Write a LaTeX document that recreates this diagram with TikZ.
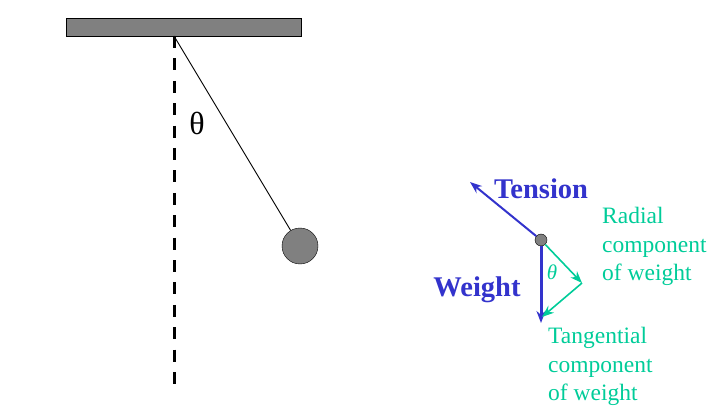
\documentclass[tikz,border=0pt]{standalone}
\usepackage{fontspec}
\setmainfont{Liberation Serif}
\usetikzlibrary{arrows,arrows.meta,positioning}
\definecolor{forceblue}{RGB}{51,51,204}
\definecolor{compgreen}{RGB}{0,204,153}
\definecolor{bobgray}{RGB}{128,128,128}

\begin{document}
\begin{tikzpicture}[
x=1pt,y=-1pt,
>={Stealth[length=12pt,width=9pt]},
mass/.style={
	circle,
	draw=black,
	fill=bobgray,
	inner sep=0pt
},
force/.style={
	->,
	forceblue,
	line width=2pt
},
component/.style={
	->,
	compgreen,
	line width=1.6pt
},
bigword/.style={
	forceblue,
	font=\fontsize{28.5}{30}\selectfont\bfseries
},
note/.style={
	compgreen,
	align=left,
	inner sep=0pt,
	anchor=north west,
	font=\fontsize{23.5}{28.5}\selectfont
}
]
\useasboundingbox (0,0) rectangle (720,414);

% pendulum
\node[draw=black,fill=bobgray,minimum width=235pt,minimum height=18pt,inner sep=0pt] (ceiling) at (183.5,27) {};
\coordinate (pivot) at (174,36);
\coordinate (plumb) at (174,384);
\node[mass,minimum size=36pt] (bob) at (300,246) {};
\draw[line width=3pt,dash pattern=on 12pt off 10.4pt] (pivot) -- (plumb);
\draw[line width=0.9pt] (pivot) -- (bob);
\node[font=\fontsize{32}{34}\selectfont] (angle) at (197,123) {θ};

% forces on the bob
\node[mass,minimum size=12pt] (dot) at (541,240) {};
\coordinate (tensionend) at (470,182);
\coordinate (weightend) at (541,323);
\coordinate (radialend) at (582,283);
\coordinate (tangentend) at (542,317);

\draw[force] (dot) -- (tensionend);
\draw[force,line width=3pt] (dot) -- (weightend);
\draw[component] (dot) -- (radialend);
\draw[component] (radialend) -- (tangentend);

\node[bigword] (tension) at (541,189) {Tension};
\node[bigword] (weight) at (477,290) {Weight};
\node[compgreen,font=\fontsize{21}{22}\selectfont\itshape] (smallangle) at (552,272) {θ};
\node[note] (radial) at (602,207) {Radial\\component\\of weight};
\node[note] (tangential) at (548,327) {Tangential\\component\\of weight};
\end{tikzpicture}
\end{document}
